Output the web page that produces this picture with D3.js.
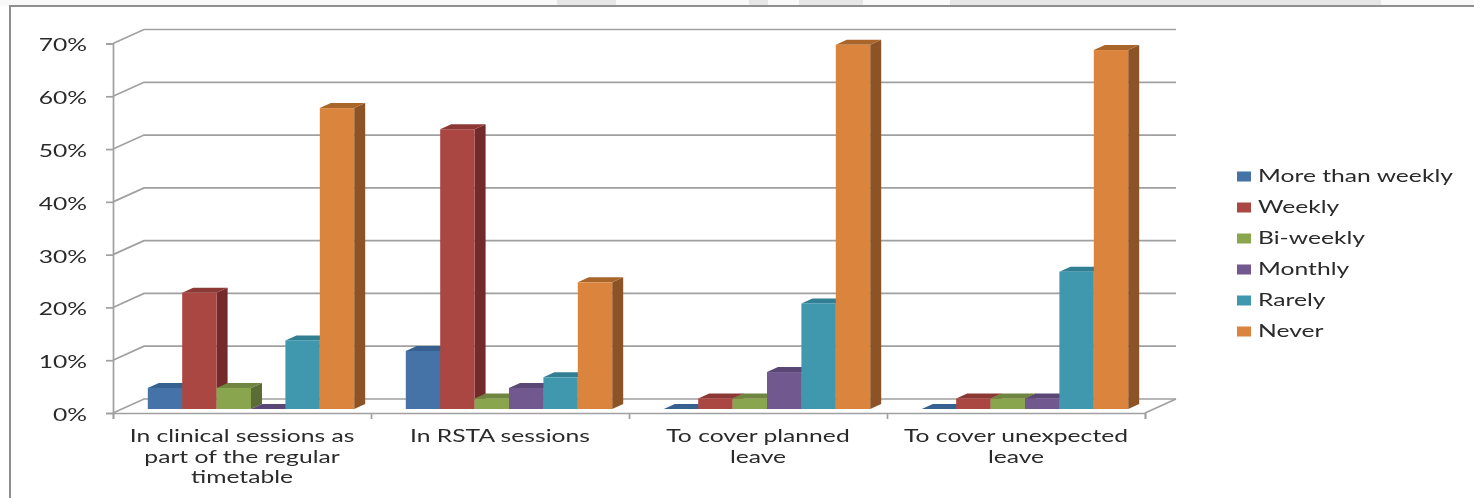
<!DOCTYPE html>
<html>
<head>
<meta charset="utf-8">
<script src="https://cdn.jsdelivr.net/npm/d3@7"></script>
<style>
  html, body { margin: 0; padding: 0; background: #fff; overflow: hidden; }
  text { font-family: Lato, sans-serif; fill: #2b2b2b; }
</style>
</head>
<body>
<div id="chart"></div>
<script>
var categories = [
  ["In clinical sessions as", "part of the regular", "timetable"],
  ["In RSTA sessions"],
  ["To cover planned", "leave"],
  ["To cover unexpected", "leave"]
];
var seriesNames = ["More than weekly", "Weekly", "Bi-weekly", "Monthly", "Rarely", "Never"];
var moreThanWeekly = [4, 11, 0, 0];
var weekly = [22, 53, 2, 2];
var biWeekly = [4, 2, 2, 2];
var monthly = [0, 4, 7, 2];
var rarely = [13, 6, 20, 26];
var never = [57, 24, 69, 68];
var seriesValues = [moreThanWeekly, weekly, biWeekly, monthly, rarely, never];
var yTicks = [0, 10, 20, 30, 40, 50, 60, 70];
var frontColors = ["#4572a7", "#aa4643", "#89a54e", "#71588f", "#4198af", "#db843d"];
var topColors = ["#35608f", "#8c3836", "#6f8640", "#5a4674", "#327f94", "#a9652c"];
var sideColors = ["#2c4d74", "#722c2b", "#5a6d35", "#49395e", "#2a6676", "#8b5327"];

var width = 1474, height = 498;
var svg = d3.select("#chart").append("svg")
    .attr("width", width)
    .attr("height", height)
    .style("display", "block");

var defs = svg.append("defs");
defs.append("filter").attr("id", "soft")
  .append("feGaussianBlur").attr("stdDeviation", 0.45);

var root = svg.append("g").attr("filter", "url(#soft)");

// strip of the page above the chart frame
root.append("rect").attr("x", 0).attr("y", 0).attr("width", width).attr("height", 6).attr("fill", "#f9f9f9");
[[557, 59], [749, 19], [799, 64], [950, 431]].forEach(function (p) {
  root.append("rect").attr("x", p[0]).attr("y", 0).attr("width", p[1]).attr("height", 6).attr("fill", "#e6e6e6");
});
root.append("path").attr("d", "M10,498V6H1474").attr("fill", "none").attr("stroke", "#8f8f8f").attr("stroke-width", 2);

// 3d geometry of the plot box
var axisLeft = 113, axisRight = 1145, axisBottom = 413, axisTop = 43.5;
var depthX = 31, depthY = -14;
var floorShift = 9, floorDrop = 4;
var barDepthX = 11, barDepthY = -5;

var x = d3.scaleBand().domain(d3.range(categories.length)).range([axisLeft, axisRight]);
var y = d3.scaleLinear().domain([0, 70]).range([axisBottom, axisTop]);
var inner = d3.scaleBand().domain(d3.range(seriesNames.length))
    .range([0, x.bandwidth()]).paddingOuter(0.75).paddingInner(0);

var gridColor = "#a0a0a0";

// gridlines on the back wall and their diagonals on the side wall
var grid = root.append("g").attr("fill", "none").attr("stroke", gridColor).attr("stroke-width", 1.7);
grid.selectAll("path").data(yTicks).enter().append("path")
    .attr("d", function (d) {
      return "M" + axisLeft + "," + y(d) +
        "L" + (axisLeft + depthX) + "," + (y(d) + depthY) +
        "H" + (axisRight + depthX);
    });
grid.append("path")
    .attr("d", "M" + axisRight + "," + y(0) + "L" + (axisRight + depthX) + "," + (y(0) + depthY));

// axes
var yAxis = root.append("g")
    .attr("transform", "translate(" + axisLeft + ",0)")
    .call(d3.axisLeft(y).tickValues(yTicks).tickSize(7)
      .tickFormat(function (d) { return d + "%"; }));
var xAxis = root.append("g")
    .attr("transform", "translate(0," + axisBottom + ")")
    .call(d3.axisBottom(d3.scaleLinear().domain([0, categories.length]).range([axisLeft, axisRight]))
      .ticks(categories.length).tickSize(6).tickFormat(""));
root.selectAll(".domain, .tick line").attr("stroke", gridColor).attr("stroke-width", 1.7);
yAxis.selectAll("text")
    .style("font-size", "18px")
    .attr("x", 0)
    .attr("dy", "0.41em")
    .attr("text-anchor", "end")
    .attr("transform", "translate(-26,0) scale(1.37,1)");

// bars: back to front, left to right, so neighbours overlap as in 3d
var bars = root.append("g");
categories.forEach(function (cat, c) {
  seriesNames.forEach(function (name, s) {
    var v = seriesValues[s][c];
    var x0 = x(c) + floorShift + inner(s), x1 = x0 + inner.bandwidth();
    var yb = y(0) - floorDrop, yt = y(v) - floorDrop;
    var g = bars.append("g");
    g.append("path").attr("fill", sideColors[s])
      .attr("d", d3.line()([[x1, yb], [x1 + barDepthX, yb + barDepthY], [x1 + barDepthX, yt + barDepthY], [x1, yt]]) + "Z");
    g.append("path").attr("fill", topColors[s])
      .attr("d", d3.line()([[x0, yt], [x0 + barDepthX, yt + barDepthY], [x1 + barDepthX, yt + barDepthY], [x1, yt]]) + "Z");
    g.append("rect").attr("fill", frontColors[s])
      .attr("x", x0).attr("y", yt).attr("width", inner.bandwidth()).attr("height", yb - yt);
  });
});

// category labels
var labelLines = root.append("g");
categories.forEach(function (lines, c) {
  lines.forEach(function (line, i) {
    labelLines.append("text")
      .attr("transform", "translate(" + (x(c) + x.bandwidth() / 2) + "," + (442 + i * 20.7) + ") scale(1.37,1)")
      .attr("text-anchor", "middle")
      .style("font-size", "18px")
      .text(line);
  });
});

// legend
var legend = root.append("g");
var legendY = d3.scalePoint().domain(seriesNames).range([176.5, 331.5]);
seriesNames.forEach(function (name, s) {
  legend.append("rect")
    .attr("x", 1237).attr("y", legendY(name) - 5)
    .attr("width", 14).attr("height", 10)
    .attr("fill", frontColors[s]);
  legend.append("text")
    .attr("transform", "translate(1258," + (legendY(name) + 5.5) + ") scale(1.37,1)")
    .style("font-size", "18px")
    .text(name);
});
</script>
</body>
</html>
